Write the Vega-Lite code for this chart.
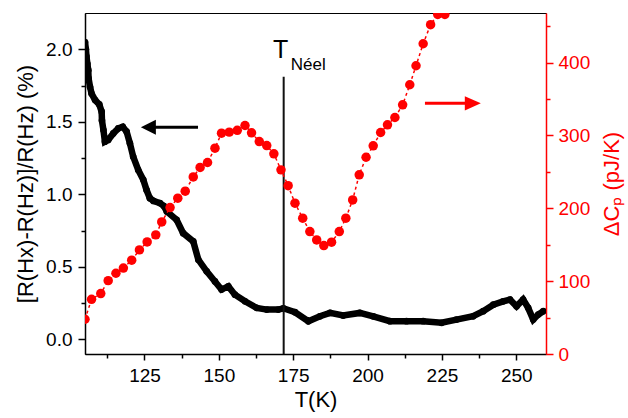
{
  "$schema": "https://vega.github.io/schema/vega-lite/v6.json",
  "width": 461,
  "height": 341,
  "autosize": {"type": "none"},
  "padding": {"left": 85, "top": 13, "right": 82, "bottom": 64},
  "background": "white",
  "config": {
    "view": {"stroke": "#000", "strokeWidth": 1},
    "font": "Liberation Sans",
    "axis": {"grid": false, "labelFont": "Liberation Sans", "titleFont": "Liberation Sans", "labelFontSize": 19, "titleFontSize": 22, "titleFontWeight": "normal", "domainWidth": 1.5, "tickWidth": 1.5}
  },
  "datasets": {
    "black": [
      {"T": 105.0, "v": 2.05}, {"T": 105.3, "v": 2.0}, {"T": 105.5, "v": 1.95}, {"T": 105.8, "v": 1.9},
      {"T": 106.1, "v": 1.856}, {"T": 106.2, "v": 1.8}, {"T": 106.7, "v": 1.74}, {"T": 107.2, "v": 1.695},
      {"T": 108.4, "v": 1.65}, {"T": 109.8, "v": 1.62}, {"T": 110.6, "v": 1.57}, {"T": 110.7, "v": 1.51},
      {"T": 111.2, "v": 1.443}, {"T": 111.7, "v": 1.363}, {"T": 112.8, "v": 1.375}, {"T": 114.5, "v": 1.42},
      {"T": 116.2, "v": 1.455}, {"T": 117.7, "v": 1.466}, {"T": 119.0, "v": 1.432}, {"T": 120.1, "v": 1.352},
      {"T": 121.2, "v": 1.26}, {"T": 122.9, "v": 1.168}, {"T": 124.6, "v": 1.1}, {"T": 125.7, "v": 1.03},
      {"T": 126.8, "v": 0.974}, {"T": 128.0, "v": 0.955}, {"T": 130.2, "v": 0.94}, {"T": 131.5, "v": 0.92},
      {"T": 132.5, "v": 0.882}, {"T": 135.8, "v": 0.825}, {"T": 138.0, "v": 0.733}, {"T": 141.4, "v": 0.676},
      {"T": 143.1, "v": 0.55}, {"T": 145.9, "v": 0.47}, {"T": 148.7, "v": 0.4}, {"T": 150.9, "v": 0.344},
      {"T": 153.2, "v": 0.366}, {"T": 155.4, "v": 0.309}, {"T": 158.8, "v": 0.263}, {"T": 162.7, "v": 0.218},
      {"T": 166.1, "v": 0.206}, {"T": 170.0, "v": 0.206}, {"T": 171.7, "v": 0.215}, {"T": 175.6, "v": 0.188},
      {"T": 180.1, "v": 0.126}, {"T": 184.0, "v": 0.16}, {"T": 187.4, "v": 0.183}, {"T": 191.8, "v": 0.165},
      {"T": 197.4, "v": 0.183}, {"T": 201.9, "v": 0.16}, {"T": 207.5, "v": 0.126}, {"T": 213.1, "v": 0.126},
      {"T": 218.7, "v": 0.126}, {"T": 224.9, "v": 0.115}, {"T": 229.9, "v": 0.137}, {"T": 235.5, "v": 0.16},
      {"T": 238.9, "v": 0.195}, {"T": 242.3, "v": 0.24}, {"T": 245.6, "v": 0.263}, {"T": 247.9, "v": 0.275},
      {"T": 250.1, "v": 0.229}, {"T": 252.3, "v": 0.275}, {"T": 254.0, "v": 0.218}, {"T": 255.7, "v": 0.137},
      {"T": 257.4, "v": 0.172}, {"T": 259.1, "v": 0.195}
    ],
    "red": [
      {"T": 105.0, "v": 47.7}, {"T": 107.2, "v": 75}, {"T": 110.3, "v": 83}, {"T": 112.8, "v": 100.7},
      {"T": 115.4, "v": 110.8}, {"T": 117.9, "v": 118}, {"T": 120.7, "v": 128.7}, {"T": 123.3, "v": 142.9},
      {"T": 125.9, "v": 153.8}, {"T": 128.8, "v": 163.5}, {"T": 130.8, "v": 181.3}, {"T": 133.6, "v": 201},
      {"T": 136.2, "v": 213.9}, {"T": 138.7, "v": 223.5}, {"T": 141.4, "v": 243}, {"T": 143.7, "v": 256},
      {"T": 146.2, "v": 262.8}, {"T": 148.7, "v": 282.5}, {"T": 150.9, "v": 303}, {"T": 153.5, "v": 304.5},
      {"T": 156.2, "v": 307}, {"T": 158.8, "v": 313.6}, {"T": 161.0, "v": 303.5}, {"T": 163.6, "v": 291.6},
      {"T": 166.1, "v": 286}, {"T": 168.5, "v": 274.7}, {"T": 170.9, "v": 252.7}, {"T": 173.3, "v": 231},
      {"T": 175.6, "v": 207}, {"T": 178.2, "v": 186.4}, {"T": 180.6, "v": 168}, {"T": 182.9, "v": 156.6},
      {"T": 185.3, "v": 148.8}, {"T": 187.9, "v": 153.4}, {"T": 190.5, "v": 168}, {"T": 192.7, "v": 186.4},
      {"T": 195.0, "v": 211.5}, {"T": 197.2, "v": 245.9}, {"T": 199.5, "v": 270}, {"T": 201.9, "v": 285.7},
      {"T": 204.4, "v": 304}, {"T": 206.7, "v": 314.6}, {"T": 209.2, "v": 324.6}, {"T": 211.8, "v": 342},
      {"T": 214.2, "v": 369.5}, {"T": 216.3, "v": 395.6}, {"T": 218.7, "v": 425.8}, {"T": 221.2, "v": 452},
      {"T": 223.6, "v": 466}, {"T": 226.0, "v": 466}
    ]
  },
  "resolve": {"scale": {"y": "independent"}, "axis": {"y": "independent"}},
  "layer": [
    {
      "encoding": {
        "x": {"field": "T", "type": "quantitative", "scale": {"domain": [105, 260], "nice": false, "zero": false},
          "axis": {"title": "T(K)", "values": [112.5, 125, 137.5, 150, 162.5, 175, 187.5, 200, 212.5, 225, 237.5, 250],
            "labelExpr": "datum.value % 25 === 0 ? datum.label : ''",
            "tickSize": {"condition": {"test": "datum.value % 25 === 0", "value": 6}, "value": 4},
            "labelPadding": 6, "titlePadding": 4, "domainColor": "#000", "tickColor": "#000", "labelColor": "#000", "titleColor": "#000"}},
        "y": {"field": "v", "type": "quantitative", "scale": {"domain": [-0.1, 2.25], "nice": false, "zero": false},
          "axis": {"orient": "left", "title": "[R(Hx)-R(Hz)]/R(Hz) (%)", "format": ".1f",
            "values": [0, 0.25, 0.5, 0.75, 1, 1.25, 1.5, 1.75, 2],
            "labelExpr": "datum.value % 0.5 === 0 ? datum.label : ''",
            "tickSize": {"condition": {"test": "datum.value % 0.5 === 0", "value": 7}, "value": 4},
            "labelPadding": 6, "titlePadding": 8, "domainColor": "#000", "tickColor": "#000", "labelColor": "#000", "titleColor": "#000"}}
      },
      "layer": [
        {"data": {"name": "black"}, "mark": {"type": "line", "color": "#000", "strokeWidth": 6.5, "clip": true}},
        {"data": {"name": "black"}, "mark": {"type": "circle", "color": "#000", "size": 45, "opacity": 1, "clip": true}},
        {"data": {"values": [{"T": 171.8, "v": -0.1, "v2": 1.81}]}, "mark": {"type": "rule", "color": "#111", "strokeWidth": 2},
          "encoding": {"y2": {"field": "v2"}}},
        {"data": {"values": [{"T": 126, "T2": 143, "v": 1.462}]}, "mark": {"type": "rule", "color": "#000", "strokeWidth": 3},
          "encoding": {"x2": {"field": "T2"}}},
        {"data": {"values": [{"T": 126.3, "v": 1.462}]}, "mark": {"type": "point", "shape": "M-1,0L1,-1L1,1Z", "filled": true, "color": "#000", "size": 225, "opacity": 1}},
        {"data": {"values": [{"T": 170.8, "v": 1.94, "label": "T"}]}, "mark": {"type": "text", "fontSize": 25, "align": "center", "baseline": "alphabetic", "color": "#000"},
          "encoding": {"text": {"field": "label"}}},
        {"data": {"values": [{"T": 174.2, "v": 1.86, "label": "Néel"}]}, "mark": {"type": "text", "fontSize": 17, "align": "left", "baseline": "alphabetic", "color": "#000"},
          "encoding": {"text": {"field": "label"}}}
      ]
    },
    {
      "encoding": {
        "x": {"field": "T", "type": "quantitative", "scale": {"domain": [105, 260], "nice": false, "zero": false},
          "axis": {"title": "T(K)", "values": [112.5, 125, 137.5, 150, 162.5, 175, 187.5, 200, 212.5, 225, 237.5, 250],
            "labelExpr": "datum.value % 25 === 0 ? datum.label : ''",
            "tickSize": {"condition": {"test": "datum.value % 25 === 0", "value": 6}, "value": 4},
            "labelPadding": 6, "titlePadding": 4, "domainColor": "#000", "tickColor": "#000", "labelColor": "#000", "titleColor": "#000"}},
        "y": {"field": "v", "type": "quantitative", "scale": {"domain": [0, 468], "nice": false, "zero": false},
          "axis": {"orient": "right", "title": "ΔCₚ (pJ/K)", "titleAngle": 270,
            "values": [0, 50, 100, 150, 200, 250, 300, 350, 400, 450],
            "labelExpr": "datum.value % 100 === 0 ? datum.label : ''",
            "tickSize": {"condition": {"test": "datum.value % 100 === 0", "value": 7}, "value": 4},
            "labelPadding": 5, "titlePadding": 34, "domainColor": "#ff0000", "tickColor": "#ff0000", "labelColor": "#ff0000", "titleColor": "#ff0000"}}
      },
      "layer": [
        {"data": {"name": "red"}, "mark": {"type": "line", "color": "#ff0000", "strokeWidth": 1.5, "strokeDash": [3, 3], "clip": true}},
        {"data": {"name": "red"}, "mark": {"type": "circle", "color": "#ff0000", "size": 90, "opacity": 1, "clip": true}},
        {"data": {"values": [{"T": 219.3, "T2": 235, "v": 344}]}, "mark": {"type": "rule", "color": "#ff0000", "strokeWidth": 3},
          "encoding": {"x2": {"field": "T2"}}},
        {"data": {"values": [{"T": 235.4, "v": 344}]}, "mark": {"type": "point", "shape": "M1,0L-1,-0.9L-1,0.9Z", "filled": true, "color": "#ff0000", "size": 256, "opacity": 1}}
      ]
    }
  ]
}
